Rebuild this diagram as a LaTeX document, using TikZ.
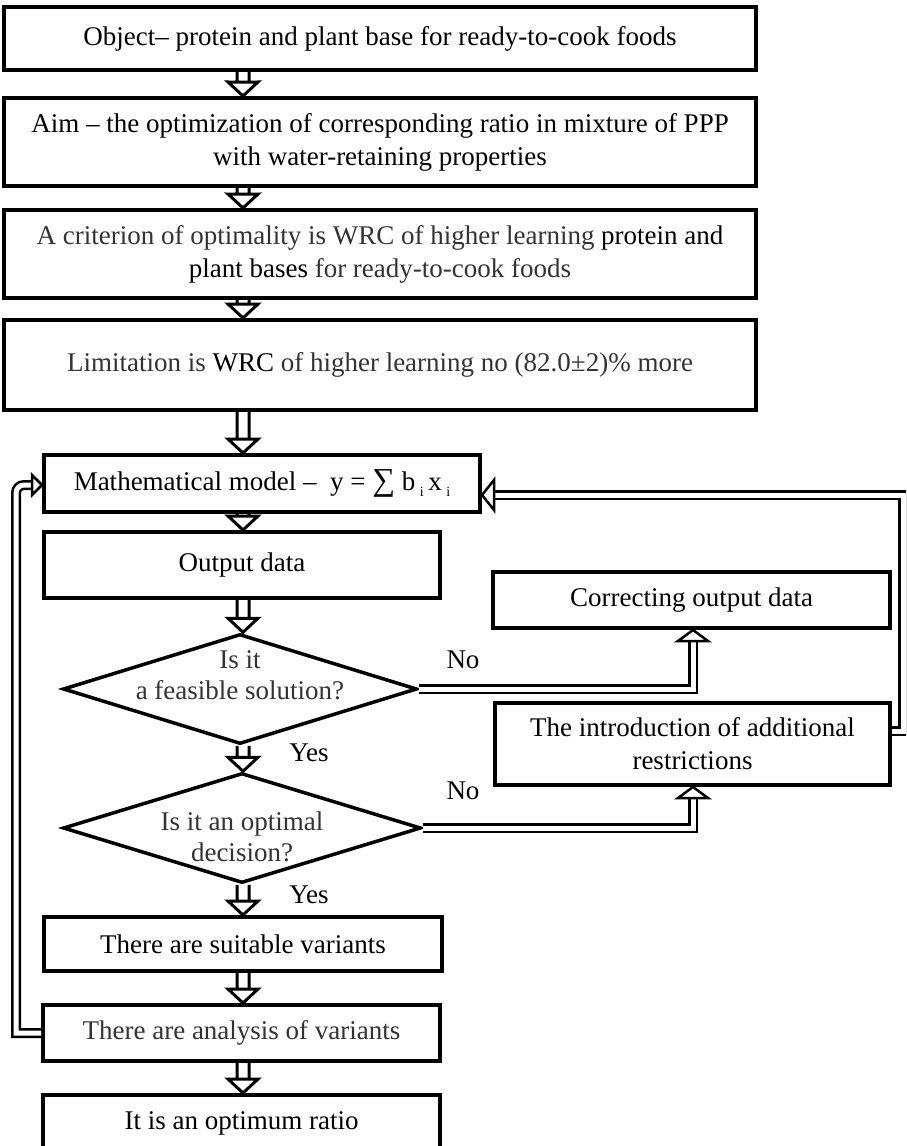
\documentclass[tikz,border=0pt]{standalone}
\usepackage{fontspec}
\setmainfont{Liberation Serif}
\usetikzlibrary{calc,shapes.geometric}
\definecolor{gtext}{gray}{0.2}
\begin{document}
\begin{tikzpicture}[x=1pt,y=-1pt,
  box/.style={draw, line width=4pt, rectangle, inner sep=0pt, align=center, font=\fontsize{27}{33}\selectfont},
  dia/.style={draw, line width=3.5pt, diamond, inner sep=0pt},
  txt/.style={inner sep=0pt, align=center, font=\fontsize{27}{31}\selectfont},
  blkst/.style={draw, line width=3pt, line join=miter},
  dline/.style={draw, line width=2.5pt, double=white, double distance=5pt},
  headst/.style={draw, line width=2.5pt, fill=white, line join=miter},
  blk/.style={to path={
    ($(\tikztostart)!6pt!90:(\tikztotarget)$) --
    ($(\tikztotarget)!15.23pt!-23.2:(\tikztostart)$) --
    ($(\tikztotarget)!20.52pt!-46.97:(\tikztostart)$) --
    (\tikztotarget) --
    ($(\tikztotarget)!20.52pt!46.97:(\tikztostart)$) --
    ($(\tikztotarget)!15.23pt!23.2:(\tikztostart)$) --
    ($(\tikztostart)!6pt!-90:(\tikztotarget)$)
    ($(\tikztotarget)!15.23pt!-23.2:(\tikztostart)$) -- ($(\tikztotarget)!15.23pt!23.2:(\tikztostart)$)
  }},
  hd/.style={to path={
    ($(\tikztostart)!#1!90:(\tikztotarget)$) -- (\tikztotarget) --
    ($(\tikztostart)!#1!-90:(\tikztotarget)$) -- cycle
  }},
  hd/.default=15pt
]
\useasboundingbox (0,0) rectangle (906,1146);
\clip (0,0) rectangle (906,1146);

% boxes
\node[box, minimum width=752, minimum height=63] (b1) at (380,38.5)
  {Object– protein and plant base for ready-to-cook foods};
\node[box, minimum width=752, minimum height=88] (b2) at (380,142)
  {Aim – the optimization of corresponding ratio in mixture of PPP\\with water-retaining properties};
\node[box, minimum width=752, minimum height=88] (b3) at (380,254)
  {{\color{gtext}A criterion of optimality is WRC of higher learning} protein and\\plant bases {\color{gtext}for ready-to-cook foods}};
\node[box, minimum width=752, minimum height=90] (b4) at (380,365)
  {{\color{gtext}Limitation is} WRC {\color{gtext}of higher learning no (82.0±2)\% more}};
\node[box, minimum width=436, minimum height=57] (mm) at (262,483.5)
  {Mathematical model –\enspace y = {\fontsize{32}{32}\selectfont ∑} b\,\raisebox{-6pt}{\fontsize{14}{14}\selectfont i}\,x\,\raisebox{-6pt}{\fontsize{14}{14}\selectfont i}};
\node[box, minimum width=396, minimum height=66] (out) at (242,565) {Output data};
\node[dia, minimum width=354, minimum height=110] (d1) at (240,689) {};
\node[txt, text=gtext] (d1t) at (240,675) {Is it\\a feasible solution?};
\node[dia, minimum width=358, minimum height=110] (d2) at (242,828) {};
\node[txt, text=gtext] (d2t) at (242,837) {Is it an optimal\\decision?};
\node[box, minimum width=398, minimum height=54] (suit) at (243,944) {There are suitable variants};
\node[box, minimum width=397, minimum height=56, text=gtext] (an) at (241.5,1033) {There are analysis of variants};
\node[box, minimum width=397, minimum height=56] (opt) at (241.5,1123) {It is an optimum ratio};
\node[box, minimum width=397, minimum height=56] (cor) at (691.5,600) {Correcting output data};
\node[box, minimum width=395, minimum height=82] (intro) at (692.5,744) {The introduction of additional\\restrictions};

% labels
\node[txt] (no1) at (463,660) {No};
\node[txt] (no2) at (463,791) {No};
\node[txt] (yes1) at (309,753) {Yes};
\node[txt] (yes2) at (309,895) {Yes};

% axis and helper coordinates
\coordinate (ax) at (243,0);
\coordinate (n1) at (693,641);
\coordinate (n2) at (693,798);
\coordinate (rc) at (903,731);
\coordinate (rh) at (494,495);
\coordinate (lb) at (16,1033);
\coordinate (lt) at (16,485);
\coordinate (lh) at (32,485);

% vertical block arrows
\draw[blkst] (b1.south -| ax) to[blk] (b2.north -| ax);
\draw[blkst] (b2.south -| ax) to[blk] (b3.north -| ax);
\draw[blkst] (b3.south -| ax) to[blk] (b4.north -| ax);
\draw[blkst] (b4.south -| ax) to[blk] (mm.north -| ax);
\draw[blkst] (mm.south -| ax) to[blk] (out.north -| ax);
\draw[blkst] (out.south -| ax) to[blk] (d1.north -| ax);
\draw[blkst] (d1.south -| ax) to[blk] (d2.north -| ax);
\draw[blkst] (d2.south -| ax) to[blk] (suit.north -| ax);
\draw[blkst] (suit.south -| ax) to[blk] (an.north -| ax);
\draw[blkst] (an.south -| ax) to[blk] (opt.north -| ax);

% No branches
\draw[dline] (d1.east) -| (n1);
\draw[headst] (n1) to[hd] (cor.south -| n1);
\draw[dline] (d2.east) -| (n2);
\draw[headst] (n2) to[hd] (intro.south -| n2);

% right feedback
\draw[dline] (intro.east |- rc) -- (rc) |- (rh);
\draw[headst] (rh) to[hd] (mm.east |- rh);

% left feedback
\draw[dline] (an.west) -- (lb) [rounded corners=8pt] -- (lt) -- (lh);
\draw[headst] (lh) to[hd=10pt] (mm.west |- lh);
\end{tikzpicture}
\end{document}
